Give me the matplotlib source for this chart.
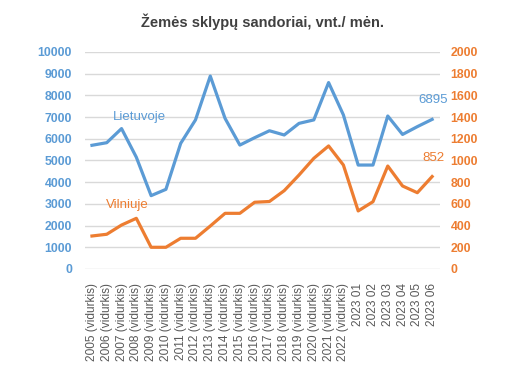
import matplotlib.pyplot as plt

plt.rcParams['font.family'] = ['Liberation Sans', 'DejaVu Sans']

# Kategorijos (metai / mėnesiai)
kategorijos = [f"{m} (vidurkis)" for m in range(2005, 2023)] + \
              ["2023 01", "2023 02", "2023 03", "2023 04", "2023 05", "2023 06"]

# Lietuvoje (kairė ašis)
lietuvoje = [5700, 5820, 6470, 5150, 3380, 3670, 5790, 6870, 8890, 6940,
             5710, 6050, 6370, 6175, 6710, 6870, 8590, 7100,
             4790, 4790, 7050, 6200, 6560, 6895]

# Vilniuje (dešinė ašis)
vilniuje = [304, 320, 405, 467, 200, 200, 283, 283, 396, 513,
            513, 615, 622, 722, 866, 1020, 1134, 958,
            535, 620, 949, 765, 703, 852]

kairiosTicks = list(range(0, 10001, 1000))
desiniosTicks = list(range(0, 2001, 200))

MELYNA = '#5B9BD5'
ORANZINE = '#ED7D31'

fig = plt.figure(figsize=(5.22, 3.9), dpi=100)
ax = fig.add_axes([0.162, 0.3103, 0.680, 0.5564])
ax2 = ax.twinx()

x = list(range(len(kategorijos)))
ax.plot(x, lietuvoje, color=MELYNA, linewidth=2.3, solid_joinstyle='round', zorder=3)
ax2.plot(x, vilniuje, color=ORANZINE, linewidth=2.3, solid_joinstyle='round', zorder=3)

ax.set_xlim(-0.5, len(kategorijos) - 0.5)
ax.set_ylim(0, 10000)
ax2.set_ylim(0, 2000)
ax.set_yticks(kairiosTicks)
ax2.set_yticks(desiniosTicks)

# grid
ax.grid(axis='y', color='#D9D9D9', linewidth=1)
ax.set_axisbelow(True)
for a in (ax, ax2):
    for s in a.spines.values():
        s.set_visible(False)

ax.set_xticks(x)
ax.set_xticklabels(kategorijos, rotation=90, fontsize=8.6, color='#595959')
ax.tick_params(axis='x', length=0, pad=10)
ax.tick_params(axis='y', length=0, pad=9, labelsize=8.8, labelcolor=MELYNA)
ax2.tick_params(axis='y', length=0, pad=8, labelsize=8.8, labelcolor=ORANZINE)
for lab in ax.get_yticklabels() + ax2.get_yticklabels():
    lab.set_fontweight('bold')

# Užrašai
ax.text(3.2, 7000, 'Lietuvoje', color=MELYNA, fontsize=9.5, ha='center', va='center')
ax2.text(2.4, 590, 'Vilniuje', color=ORANZINE, fontsize=9.5, ha='center', va='center')
ax.annotate(str(lietuvoje[-1]), (x[-1], lietuvoje[-1]), xytext=(1, 14),
            textcoords='offset points', color=MELYNA, fontsize=9.5, ha='center', va='center')
ax2.annotate(str(vilniuje[-1]), (x[-1], vilniuje[-1]), xytext=(1, 13),
             textcoords='offset points', color=ORANZINE, fontsize=9.5, ha='center', va='center')

fig.text(0.502, 0.944, 'Žemės sklypų sandoriai, vnt./ mėn.', ha='center', va='center',
         fontsize=10.5, fontweight='bold', color='#404040')

plt.savefig('out.png', dpi=100)
